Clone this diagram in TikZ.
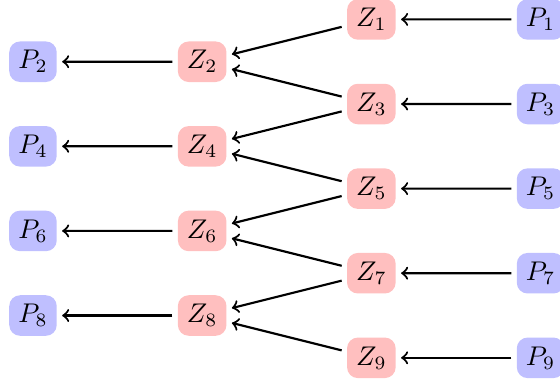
\documentclass[tikz,border=0pt]{standalone}
\begin{document}
\begin{tikzpicture}[scale=.55,
  zn/.style={fill=red!25, rounded corners=4pt, outer sep=2pt},
  pn/.style={fill=blue!25, rounded corners=4pt, outer sep=2pt},
  arr/.style={thick, ->}]
\useasboundingbox (-0.78,-0.52) rectangle (12.46,8.46);
\node[zn] (z1) at (8,8){$Z_1$};
\node[pn] (p1) at (12,8){$P_1$};
\draw[arr](p1) -- (z1);
\node[zn] (z3) at (8,6){$Z_3$};
\node[pn] (p3) at (12,6){$P_3$};
\draw[arr](p3) -- (z3);
\node[zn] (z5) at (8,4){$Z_5$};
\node[pn] (p5) at (12,4){$P_5$};
\draw[arr](p5) -- (z5);
\node[zn] (z7) at (8,2){$Z_7$};
\node[pn] (p7) at (12,2){$P_7$};
\draw[arr](p7) -- (z7);
\node[zn] (z9) at (8,0){$Z_9$};
\node[pn] (p9) at (12,0){$P_9$};
\draw[arr](p9) -- (z9);
\node[zn] (z2) at (4,7){$Z_2$};
\node[pn] (p2) at (0,7){$P_2$};
\draw[arr](z1) -- (z2);
\draw[arr](z3) -- (z2);
\draw[arr](z2) -- (p2);
\node[zn] (z4) at (4,5){$Z_4$};
\node[pn] (p4) at (0,5){$P_4$};
\draw[arr](z3) -- (z4);
\draw[arr](z5) -- (z4);
\draw[arr](z4) -- (p4);
\node[zn] (z6) at (4,3){$Z_6$};
\node[pn] (p6) at (0,3){$P_6$};
\draw[arr](z5) -- (z6);
\draw[arr](z7) -- (z6);
\draw[arr](z6) -- (p6);
\node[zn] (z8) at (4,1){$Z_8$};
\node[pn] (p8) at (0,1){$P_8$};
\draw[arr](z7) -- (z8);
\draw[arr](z9) -- (z8);
\draw[arr](z8) -- (p8);
\end{tikzpicture}
\end{document}
